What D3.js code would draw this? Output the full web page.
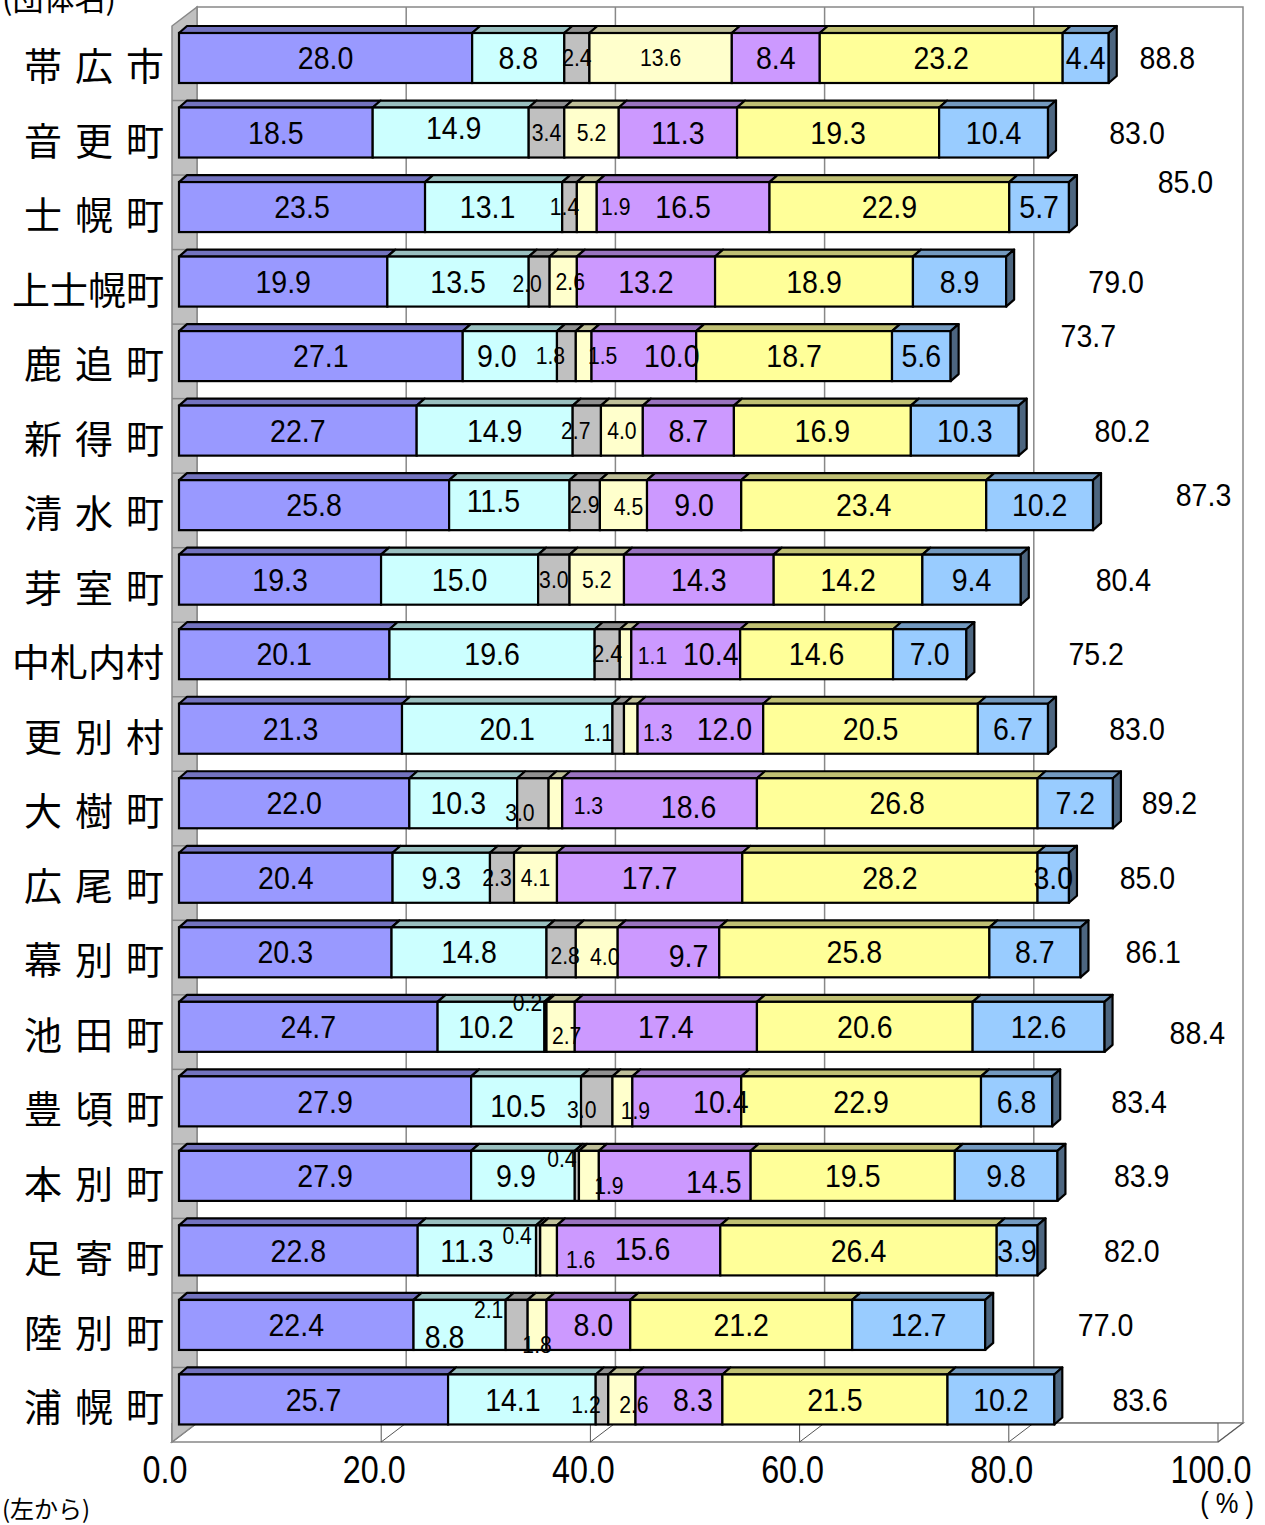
<!DOCTYPE html>
<html>
<head>
<meta charset="utf-8">
<script src="https://cdn.jsdelivr.net/npm/d3@7"></script>
<style>
body { margin: 0; background: #fff; }
</style>
</head>
<body>
<div id="chart"></div>
<script>
// ------------------------------------------------------------------
//	stacked 3d bar chart  (十勝管内 19 団体)
// ------------------------------------------------------------------
const cities = ["帯広市","音更町","士幌町","上士幌町","鹿追町","新得町","清水町","芽室町","中札内村","更別村",
	"大樹町","広尾町","幕別町","池田町","豊頃町","本別町","足寄町","陸別町","浦幌町"]

const seg1 = [28.0,18.5,23.5,19.9,27.1,22.7,25.8,19.3,20.1,21.3,22.0,20.4,20.3,24.7,27.9,27.9,22.8,22.4,25.7]
const seg2 = [8.8,14.9,13.1,13.5,9.0,14.9,11.5,15.0,19.6,20.1,10.3,9.3,14.8,10.2,10.5,9.9,11.3,8.8,14.1]
const seg3 = [2.4,3.4,1.4,2.0,1.8,2.7,2.9,3.0,2.4,1.1,3.0,2.3,2.8,0.2,3.0,0.4,0.4,2.1,1.2]
const seg4 = [13.6,5.2,1.9,2.6,1.5,4.0,4.5,5.2,1.1,1.3,1.3,4.1,4.0,2.7,1.9,1.9,1.6,1.8,2.6]
const seg5 = [8.4,11.3,16.5,13.2,10.0,8.7,9.0,14.3,10.4,12.0,18.6,17.7,9.7,17.4,10.4,14.5,15.6,8.0,8.3]
const seg6 = [23.2,19.3,22.9,18.9,18.7,16.9,23.4,14.2,14.6,20.5,26.8,28.2,25.8,20.6,22.9,19.5,26.4,21.2,21.5]
const seg7 = [4.4,10.4,5.7,8.9,5.6,10.3,10.2,9.4,7.0,6.7,7.2,3.0,8.7,12.6,6.8,9.8,3.9,12.7,10.2]
const totals = [88.8,83.0,85.0,79.0,73.7,80.2,87.3,80.4,75.2,83.0,89.2,85.0,86.1,88.4,83.4,83.9,82.0,77.0,83.6]
const x_ticks = [0,20,40,60,80,100]

const keys = ["s1","s2","s3","s4","s5","s6","s7"]
const colors = ["#9999FF","#CCFFFF","#C0C0C0","#FFFFCC","#CC99FF","#FFFF99","#99CCFF"]

// hand moved labels in the original  "row-seg" : [dx,dy]
const label_nudge = {
	"1-1":[3,-5],
	"2-1":[-6,0],"2-2":[-5,0],"2-3":[29,0],
	"3-2":[-12,2],"3-3":[7,0],
	"4-1":[-13,0],"4-2":[-16,0],"4-3":[19,0],"4-4":[28,0],
	"5-2":[-11,0],
	"6-1":[-16,-4],"6-3":[5,2],
	"8-3":[27,2],"8-4":[25,0],
	"9-2":[-20,4],"9-3":[27,4],"9-4":[24,0],
	"10-1":[-5,0],"10-2":[-13,9],"10-3":[33,2],"10-4":[29,4],
	"11-2":[-5,0],
	"12-2":[4,3],"12-3":[8,4],"12-4":[20,4],
	"13-1":[-5,0],"13-2":[-18,-24],"13-3":[6,9],
	"14-1":[-8,4],"14-2":[-15,8],"14-3":[13,9],"14-4":[34,0],
	"15-1":[-7,0],"15-2":[-15,-17],"15-3":[20,10],"15-4":[39,6],
	"16-1":[-10,0],"16-2":[-21,-15],"16-3":[32,9],"16-4":[4,-2],
	"17-1":[-15,12],"17-2":[-28,-15],"17-3":[0,20],"17-4":[5,0],
	"18-1":[-9,0],"18-2":[-16,5],"18-3":[12,5],"18-4":[14,0]
	}
const total_nudge = {2:[38,-25],4:[0,-20],6:[44,-10],13:[32,6]}

// ------------------------------------------------------------------
const width = 1265
const height = 1525
const wall = {dx:25, dy:-19}
const bar3d = {dx:8, dy:-7}
const bar_h = 50
const floor_y = 1442

const svg = d3.select("#chart").append("svg")
	.attr("width", width)
	.attr("height", height)
	.style("font-family", "'Liberation Sans', Arial, sans-serif")

const y = d3.scaleBand().domain(cities).range([26, floor_y])
const x_bar = d3.scaleLinear().domain([0,100]).range([179, 1226])
const x_front = d3.scaleLinear().domain([0,100]).range([172, 1218])
const x_back = d3.scaleLinear().domain([0,100]).range([172 + wall.dx, 1218 + wall.dx])

const top_y = 26 + wall.dy
const back_floor = floor_y + wall.dy

function shade (c, k)
{
	const r = d3.rgb(c)
	return d3.rgb(r.r*k, r.g*k, r.b*k).formatHex()
}

// squeeze a text to look like the narrow font of the original
function squeeze (sel, k)
{
	sel.each(function() {
		const w = this.getComputedTextLength()
		d3.select(this).attr("textLength", w*k).attr("lengthAdjust","spacingAndGlyphs")
	})
}

// back wall
svg.append("rect")
	.attr("x", x_back(0)).attr("y", top_y)
	.attr("width", x_back(100) - x_back(0)).attr("height", back_floor - top_y)
	.attr("fill", "#fff").attr("stroke", "#888").attr("stroke-width", 1.5)

svg.selectAll(".grid").data(x_ticks.slice(1, -1)).enter().append("line")
	.attr("x1", d => x_back(d)).attr("x2", d => x_back(d))
	.attr("y1", top_y).attr("y2", back_floor)
	.attr("stroke", "#888").attr("stroke-width", 1.5)

// floor
svg.append("path")
	.attr("d", d3.line()([[x_front(0),floor_y],[x_front(100),floor_y],[x_back(100),back_floor],[x_back(0),back_floor]]) + "Z")
	.attr("fill", "#fff").attr("stroke", "#888").attr("stroke-width", 1.5)
svg.append("line")
	.attr("x1", x_front(0)).attr("x2", x_front(100))
	.attr("y1", back_floor).attr("y2", back_floor)
	.attr("stroke", "#888").attr("stroke-width", 1.2)
svg.selectAll(".ftick").data(x_ticks).enter().append("path")
	.attr("d", d => d3.line()([[x_front(d), back_floor],[x_front(d), floor_y],[x_back(d), back_floor]]))
	.attr("fill", "none").attr("stroke", "#555").attr("stroke-width", 1)

// left wall
svg.append("path")
	.attr("d", d3.line()([[x_front(0),26],[x_back(0),top_y],[x_back(0),back_floor],[x_front(0),floor_y]]) + "Z")
	.attr("fill", "#C0C0C0").attr("stroke", "#888").attr("stroke-width", 1.5)
svg.selectAll(".wline").data(cities.slice(1)).enter().append("line")
	.attr("x1", x_front(0)).attr("x2", x_back(0))
	.attr("y1", d => y(d)).attr("y2", d => y(d))
	.attr("stroke", "#888").attr("stroke-width", 1.5)

// ------------------------------------------------------------------
// bars
const table = cities.map((c, i) => ({city:c, s1:seg1[i], s2:seg2[i], s3:seg3[i], s4:seg4[i],
	s5:seg5[i], s6:seg6[i], s7:seg7[i]}))
const series = d3.stack().keys(keys)(table)

cities.forEach(function(city, row) {
	const g = svg.append("g")
	const yt = y(city) + 7
	series.forEach(function(s, k) {
		const x0 = x_bar(s[row][0])
		const x1 = x_bar(s[row][1])
		g.append("path")
			.attr("d", d3.line()([[x0,yt],[x0+bar3d.dx,yt+bar3d.dy],[x1+bar3d.dx,yt+bar3d.dy],[x1,yt]]) + "Z")
			.attr("fill", shade(colors[k], 0.75))
			.attr("stroke", "#000").attr("stroke-width", 2.2).attr("stroke-linejoin", "round")
		g.append("rect")
			.attr("x", x0).attr("y", yt)
			.attr("width", x1 - x0).attr("height", bar_h)
			.attr("fill", colors[k])
			.attr("stroke", "#000").attr("stroke-width", 2.2)
		if (k == keys.length - 1)
			{
			g.append("path")
				.attr("d", d3.line()([[x1,yt],[x1+bar3d.dx,yt+bar3d.dy],[x1+bar3d.dx,yt+bar_h+bar3d.dy],[x1,yt+bar_h]]) + "Z")
				.attr("fill", shade(colors[k], 0.5))
				.attr("stroke", "#000").attr("stroke-width", 2.2).attr("stroke-linejoin", "round")
			}
	})
})

// value labels
cities.forEach(function(city, row) {
	const yc = y(city) + 7 + bar_h/2
	series.forEach(function(s, k) {
		const small = (k == 2 || k == 3)
		const fs = small ? 23 : 31
		const nd = label_nudge[row + "-" + k] || [0,0]
		const xc = x_bar((s[row][0] + s[row][1]) / 2) + nd[0]
		svg.append("text")
			.attr("x", xc).attr("y", yc + nd[1] + fs*0.36)
			.attr("text-anchor", "middle")
			.attr("font-size", fs)
			.text(d3.format(".1f")(s[row][1] - s[row][0]))
			.call(squeeze, 0.92)
	})
	// total at the right
	const tn = total_nudge[row] || [0,0]
	svg.append("text")
		.attr("x", x_bar(50 + totals[row]/2) + tn[0])
		.attr("y", yc + tn[1] + 31*0.36)
		.attr("text-anchor", "middle")
		.attr("font-size", 31)
		.text(d3.format(".1f")(totals[row]))
		.call(squeeze, 0.92)
})

// category labels
cities.forEach(function(city) {
	const chars = Array.from(city)
	const step = chars.length == 3 ? 51 : 38
	const t = svg.append("text")
		.attr("y", y(city) + 7 + bar_h/2 + 5)
		.attr("dominant-baseline", "central")
		.attr("font-family", "'Noto Sans CJK JP', sans-serif")
		.attr("font-size", 38)
		.attr("text-anchor", "middle")
	chars.forEach(function(ch, j) {
		t.append("tspan")
			.attr("x", 145 - (chars.length - 1 - j) * step)
			.text(ch)
	})
})

// x axis labels
svg.selectAll(".xlab").data(x_ticks).enter().append("text")
	.attr("x", d => x_front(d) - 7)
	.attr("y", 1483)
	.attr("text-anchor", "middle")
	.attr("font-size", 38)
	.text(d => d3.format(".1f")(d))
	.call(squeeze, 0.85)

svg.append("text")
	.attr("x", 1254).attr("y", 1513)
	.attr("text-anchor", "end")
	.attr("font-size", 30)
	.text("( % )")
	.call(squeeze, 0.85)

svg.append("text")
	.attr("x", 2).attr("y", 1518)
	.attr("font-family", "'Noto Sans CJK JP', sans-serif")
	.attr("font-size", 24)
	.text("(左から)")

svg.append("text")
	.attr("x", 2).attr("y", 10)
	.attr("font-family", "'Noto Sans CJK JP', sans-serif")
	.attr("font-size", 31)
	.text("(団体名)")
</script>
</body>
</html>
